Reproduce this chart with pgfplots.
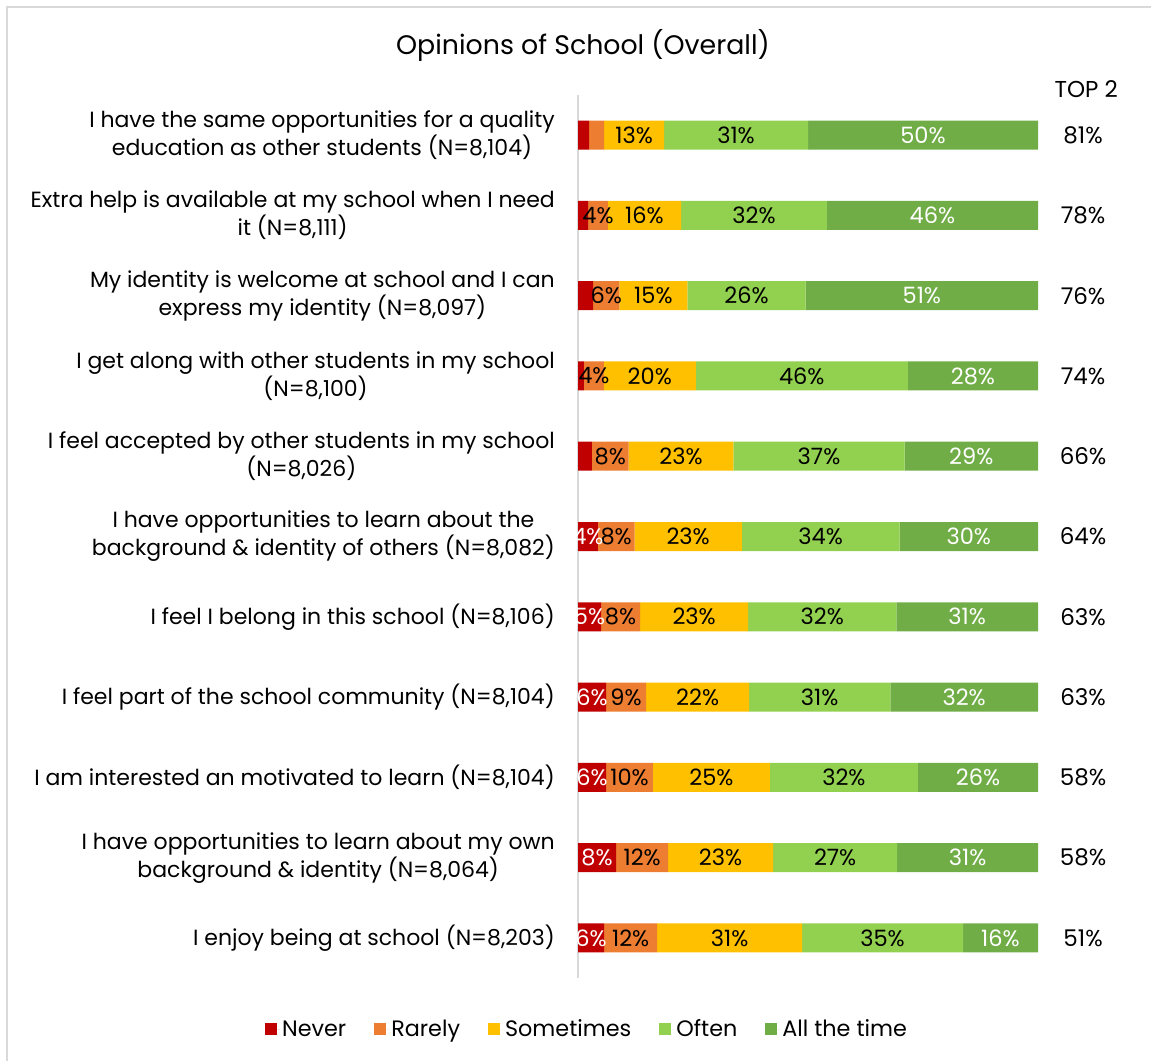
\documentclass[border=0pt]{standalone}
\usepackage{pgfplots}
\pgfplotsset{compat=1.18}
\usepackage{pgfplotstable}
\usepackage{fontspec}
\setmainfont{Poppins}
\definecolor{cNever}{HTML}{C00000}
\definecolor{cRarely}{HTML}{ED7D31}
\definecolor{cSome}{HTML}{FFC000}
\definecolor{cOften}{HTML}{92D050}
\definecolor{cAll}{HTML}{70AD47}
\definecolor{frame}{HTML}{D9D9D9}

\pgfplotstableread{
y never rarely some often all
0 2.4 3.3 13.0 31.3 50.0
1 2.2 4.3 15.9 31.7 45.9
2 3.3 5.7 14.8 25.7 50.5
3 1.3 4.3 20.0 46.1 28.3
4 3.0 8.0 22.8 37.2 29.0
5 4.3 8.0 23.3 34.3 30.1
6 5.0 8.5 23.5 32.2 30.8
7 6.1 8.7 22.4 30.7 32.1
8 6.1 10.2 25.4 32.2 26.1
9 8.3 11.3 22.8 27.0 30.6
10 5.7 11.5 31.5 35.0 16.3
}\bars

\pgfplotstableread{
x y lab
12.2 0 13
34.35 0 31
4.35 1 4
14.45 1 16
38.25 1 32
6.15 2 6
16.4 2 15
36.65 2 26
3.45 3 4
15.6 3 20
48.65 3 46
7 4 8
22.4 4 23
52.4 4 37
8.3 5 8
23.95 5 23
52.75 5 34
9.25 6 8
25.25 6 23
53.1 6 32
10.45 7 9
26 7 22
52.55 7 31
11.2 8 10
29 8 25
57.8 8 32
13.95 9 12
31 9 23
55.9 9 27
11.45 10 12
32.95 10 31
66.2 10 35
}\blacklabels

\pgfplotstableread{
x y lab
75 0 50
77.05 1 46
74.75 2 51
85.85 3 28
85.5 4 29
2.15 5 4
84.95 5 30
2.5 6 5
84.6 6 31
3.05 7 6
83.95 7 32
3.05 8 6
86.95 8 26
4.15 9 8
84.7 9 31
2.85 10 6
91.85 10 16
}\whitelabels

\pgfplotstableread{
x y lab
109.8 0 81
109.8 1 78
109.8 2 76
109.8 3 74
109.8 4 66
109.8 5 64
109.8 6 63
109.8 7 63
109.8 8 58
109.8 9 58
109.8 10 51
}\toptwo

\begin{document}
\begin{tikzpicture}
\useasboundingbox (0,0) rectangle (1151pt,-1060pt);
\draw[frame, line width=2pt] (7pt,-1062pt) -- (7pt,-7pt) -- (1153pt,-7pt);
\node[font=\fontsize{26.8}{30}\selectfont] at (583pt,-45pt) {Opinions of School (Overall)};
\begin{axis}[
  at={(578pt,-978pt)}, anchor=south west,
  scale only axis, width=460pt, height=883pt,
  xbar stacked, bar width=29pt,
  xmin=0, xmax=100, ymin=-0.5, ymax=10.5, y dir=reverse,
  axis x line=none, axis y line=left,
  y axis line style={draw=frame, line width=1.5pt, -},
  xtick=\empty,
  ytick={0,...,10},
  major tick length=0pt,
  yticklabel style={align=center, font=\fontsize{22}{28}\selectfont, inner sep=0pt, xshift=-23pt},
  yticklabels={
    {I have the same opportunities for a quality\\education as other students (N=8,104)},
    {Extra help is available at my school when I need\\it (N=8,111)},
    {My identity is welcome at school and I can\\express my identity (N=8,097)},
    {I get along with other students in my school\\(N=8,100)},
    {I feel accepted by other students in my school\\(N=8,026)},
    {I have opportunities to learn about the\\background \& identity of others (N=8,082)},
    {I feel I belong in this school (N=8,106)},
    {I feel part of the school community (N=8,104)},
    {I am interested an motivated to learn (N=8,104)},
    {I have opportunities to learn about my own\\background \& identity (N=8,064)},
    {I enjoy being at school (N=8,203)}
  },
  legend columns=5,
  legend style={at={(0.0196,-0.0578)}, anchor=center, draw=none, fill=none,
    font=\fontsize{22.3}{26}\selectfont,
    /tikz/every even column/.append style={column sep=26pt}},
  legend image code/.code={\fill[#1] (0pt,-6pt) rectangle (12pt,6pt); \path (0pt,0pt) -- (15pt,0pt);},
]
\addplot[fill=cNever, draw=none] table[x=never, y=y] {\bars};
\addplot[fill=cRarely, draw=none] table[x=rarely, y=y] {\bars};
\addplot[fill=cSome, draw=none] table[x=some, y=y] {\bars};
\addplot[fill=cOften, draw=none] table[x=often, y=y] {\bars};
\addplot[fill=cAll, draw=none] table[x=all, y=y] {\bars};
\legend{Never, Rarely, Sometimes, Often, All the time}
\end{axis}
\begin{axis}[
  at={(578pt,-978pt)}, anchor=south west,
  scale only axis, width=460pt, height=883pt,
  xmin=0, xmax=100, ymin=-0.5, ymax=10.5, y dir=reverse,
  hide axis, clip=false,
  nodes near coords={\pgfplotspointmeta\%},
  nodes near coords align={center},
  point meta=explicit symbolic,
]
\addplot[draw=none, mark=none, nodes near coords style={text=black, font=\fontsize{22.5}{26}\selectfont}] table[x=x, y=y, meta=lab] {\blacklabels};
\addplot[draw=none, mark=none, nodes near coords style={text=white, font=\fontsize{22.5}{26}\selectfont}] table[x=x, y=y, meta=lab] {\whitelabels};
\addplot[draw=none, mark=none, nodes near coords style={text=black, font=\fontsize{23}{26}\selectfont}] table[x=x, y=y, meta=lab] {\toptwo};
\node[font=\fontsize{23}{26}\selectfont] at (axis cs:110.5,-0.57) {TOP 2};
\end{axis}
\end{tikzpicture}
\end{document}
